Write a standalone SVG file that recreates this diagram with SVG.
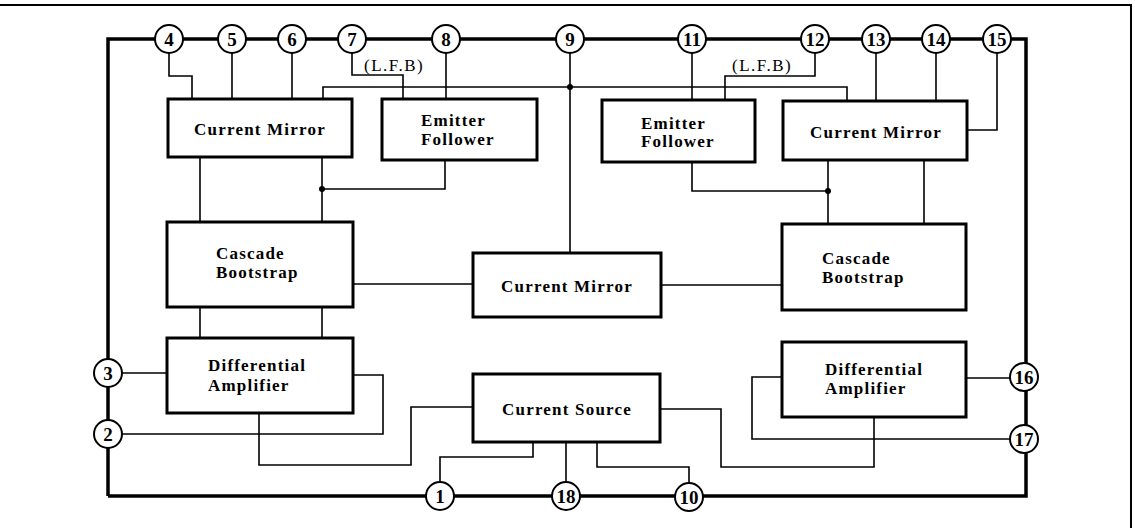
<svg xmlns="http://www.w3.org/2000/svg" width="1135" height="528" viewBox="0 0 1135 528">
<style>
.frame{fill:none;stroke:#000;stroke-width:2}
.bus{fill:none;stroke:#000;stroke-width:3.5;stroke-linejoin:miter}
.w{fill:none;stroke:#000;stroke-width:1.6}
.box{fill:#fff;stroke:#000;stroke-width:3}
.pin{fill:#fff;stroke:#000;stroke-width:2}
.t{font-family:"Liberation Serif",serif;font-weight:bold;font-size:17px;letter-spacing:1.2px;fill:#000}
.lfb{font-family:"Liberation Serif",serif;font-size:17px;letter-spacing:1.5px;fill:#000}
.pn{font-family:"Liberation Serif",serif;font-weight:bold;font-size:19px;fill:#000;text-anchor:middle;dominant-baseline:central}
.dot{fill:#000}
</style>
<rect width="1135" height="528" fill="#fff"/>
<path class="frame" d="M0 5 H1131 V528"/>
<g id="connectors">
<path class="bus" d="M108 496 V39 H1026 V496 H108"/>
<path class="w" d="M169 39 V76 H192 V99"/>
<path class="w" d="M232 39 V99"/>
<path class="w" d="M292 39 V99"/>
<path class="w" d="M352 39 V75 H403 V99"/>
<path class="w" d="M446 39 V99"/>
<path class="w" d="M323 99 V87 H847 V101"/>
<path class="w" d="M570 39 V253"/>
<path class="w" d="M692 39 V100"/>
<path class="w" d="M815 39 V76 H725 V100"/>
<path class="w" d="M876 39 V101"/>
<path class="w" d="M936 39 V101"/>
<path class="w" d="M997 39 V130 H967"/>
<path class="w" d="M200 157 V222"/>
<path class="w" d="M322 157 V222"/>
<path class="w" d="M322 189 H445 V160"/>
<path class="w" d="M692 162 V191 H828"/>
<path class="w" d="M828 160 V224"/>
<path class="w" d="M924 160 V224"/>
<path class="w" d="M353 284 H473"/>
<path class="w" d="M661 285 H782"/>
<path class="w" d="M200 307 V338"/>
<path class="w" d="M322 307 V338"/>
<path class="w" d="M108 373 H167"/>
<path class="w" d="M353 375 H383 V434 H108"/>
<path class="w" d="M259 413 V465 H411 V407 H473"/>
<path class="w" d="M533 442 V457 H440 V496"/>
<path class="w" d="M566 442 V496"/>
<path class="w" d="M597 442 V467 H689 V496"/>
<path class="w" d="M660 409 H721 V467 H874 V417"/>
<path class="w" d="M782 377 H752 V439 H1026"/>
<path class="w" d="M966 378 H1026"/>
<circle class="dot" cx="570" cy="87" r="3"/>
<circle class="dot" cx="322" cy="189" r="3"/>
<circle class="dot" cx="828" cy="191" r="3"/>
</g>
<g id="cm-left"><rect class="box" x="168" y="99" width="184" height="58"/><text class="t" x="260" y="135" text-anchor="middle">Current Mirror</text></g>
<g id="ef-left"><rect class="box" x="382" y="99" width="155" height="61"/><text class="t" x="421" y="126">Emitter</text><text class="t" x="421" y="145">Follower</text></g>
<g id="ef-right"><rect class="box" x="602" y="100" width="153" height="62"/><text class="t" x="641" y="129">Emitter</text><text class="t" x="641" y="147">Follower</text></g>
<g id="cm-right"><rect class="box" x="783" y="101" width="184" height="59"/><text class="t" x="876" y="138" text-anchor="middle">Current Mirror</text></g>
<g id="cb-left"><rect class="box" x="167" y="222" width="186" height="85"/><text class="t" x="216" y="259">Cascade</text><text class="t" x="216" y="278">Bootstrap</text></g>
<g id="cm-center"><rect class="box" x="473" y="253" width="188" height="64"/><text class="t" x="567" y="292" text-anchor="middle">Current Mirror</text></g>
<g id="cb-right"><rect class="box" x="782" y="224" width="184" height="86"/><text class="t" x="822" y="264">Cascade</text><text class="t" x="822" y="283">Bootstrap</text></g>
<g id="da-left"><rect class="box" x="167" y="338" width="186" height="75"/><text class="t" x="208" y="371">Differential</text><text class="t" x="208" y="391">Amplifier</text></g>
<g id="da-right"><rect class="box" x="782" y="342" width="184" height="75"/><text class="t" x="825" y="375">Differential</text><text class="t" x="825" y="394">Amplifier</text></g>
<g id="cs"><rect class="box" x="473" y="374" width="187" height="68"/><text class="t" x="567" y="415" text-anchor="middle">Current Source</text></g>
<g id="lfb-left"><text class="lfb" x="364" y="71">(L.F.B)</text></g>
<g id="lfb-right"><text class="lfb" x="732" y="71">(L.F.B)</text></g>
<g id="pin4"><circle class="pin" cx="169" cy="39" r="14"/><text class="pn" x="169" y="39">4</text></g>
<g id="pin5"><circle class="pin" cx="232" cy="39" r="14"/><text class="pn" x="232" y="39">5</text></g>
<g id="pin6"><circle class="pin" cx="292" cy="39" r="14"/><text class="pn" x="292" y="39">6</text></g>
<g id="pin7"><circle class="pin" cx="352" cy="39" r="14"/><text class="pn" x="352" y="39">7</text></g>
<g id="pin8"><circle class="pin" cx="446" cy="39" r="14"/><text class="pn" x="446" y="39">8</text></g>
<g id="pin9"><circle class="pin" cx="570" cy="39" r="14"/><text class="pn" x="570" y="39">9</text></g>
<g id="pin11"><circle class="pin" cx="692" cy="39" r="14"/><text class="pn" x="692" y="39">11</text></g>
<g id="pin12"><circle class="pin" cx="815" cy="39" r="14"/><text class="pn" x="815" y="39">12</text></g>
<g id="pin13"><circle class="pin" cx="876" cy="39" r="14"/><text class="pn" x="876" y="39">13</text></g>
<g id="pin14"><circle class="pin" cx="936" cy="39" r="14"/><text class="pn" x="936" y="39">14</text></g>
<g id="pin15"><circle class="pin" cx="997" cy="39" r="14"/><text class="pn" x="997" y="39">15</text></g>
<g id="pin3"><circle class="pin" cx="108" cy="373" r="14"/><text class="pn" x="108" y="373">3</text></g>
<g id="pin2"><circle class="pin" cx="108" cy="434" r="14"/><text class="pn" x="108" y="434">2</text></g>
<g id="pin16"><circle class="pin" cx="1024" cy="377" r="14"/><text class="pn" x="1024" y="377">16</text></g>
<g id="pin17"><circle class="pin" cx="1024" cy="439" r="14"/><text class="pn" x="1024" y="439">17</text></g>
<g id="pin1"><circle class="pin" cx="440" cy="496" r="14"/><text class="pn" x="440" y="496">1</text></g>
<g id="pin18"><circle class="pin" cx="566" cy="496" r="14"/><text class="pn" x="566" y="496">18</text></g>
<g id="pin10"><circle class="pin" cx="689" cy="497" r="14"/><text class="pn" x="689" y="497">10</text></g>
</svg>
